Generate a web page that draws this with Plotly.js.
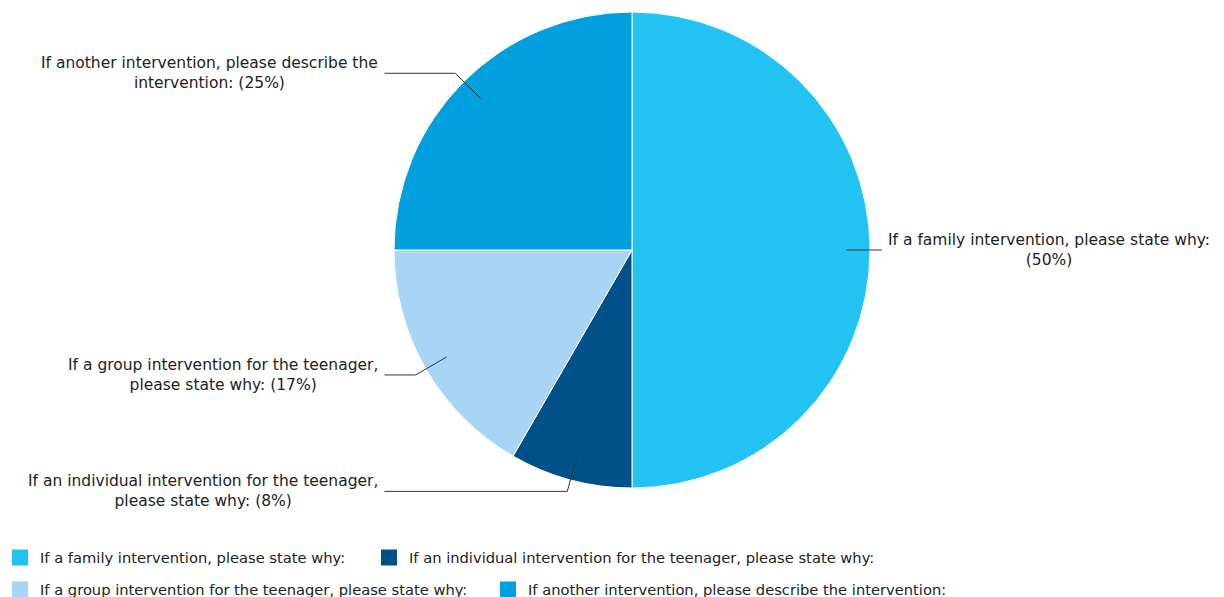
<!DOCTYPE html>
<html>
<head>
<meta charset="utf-8">
<script src="https://cdn.plot.ly/plotly-3.0.1.min.js"></script>
<style>html,body{margin:0;padding:0;background:#fff;overflow:hidden;}#chart{width:1224px;height:597px;overflow:hidden;}</style>
</head>
<body>
<div id="chart"></div>
<script>
// ---- data ----
const categories = [
  "If a family intervention, please state why:",
  "If an individual intervention for the teenager, please state why:",
  "If a group intervention for the teenager, please state why:",
  "If another intervention, please describe the intervention:"
];
const counts = [6, 1, 2, 3];
const labelLines = [
  ["If a family intervention, please state why:", ""],
  ["If an individual intervention for the teenager,", "please state why:"],
  ["If a group intervention for the teenager,", "please state why:"],
  ["If another intervention, please describe the", "intervention:"]
];
const colors = ["#22c3f3", "#00508a", "#a8d5f5", "#009fe0"];
const legendRow = [1, 1, 2, 2]; // legend row of each category

// ---- layout geometry ----
const W = 1224, H = 597;
const pieBox = {x0: 40, x1: 1224, y0: 12, y1: 488}; // pixel box for pie domain
const cx = (pieBox.x0 + pieBox.x1) / 2;
const cy = (pieBox.y0 + pieBox.y1) / 2;
const R = Math.min(pieBox.x1 - pieBox.x0, pieBox.y1 - pieBox.y0) / 2;
const FONT = "DejaVu Sans, Verdana, sans-serif";
const LABEL_SIZE = 15.5;
const LEGEND_SIZE = 14.7;
// width reserved for the first legend entry of each row (px)
const legendEntryWidth = {1: 324, 2: 443};

const px = x => x / W;
const py = y => 1 - y / H;

const total = counts.reduce((a, b) => a + b, 0);
const shapes = [];
const annotations = [];
let cum = 0;
counts.forEach((v, i) => {
  const mid = (cum + v / 2) / total * 2 * Math.PI; // clockwise from top
  cum += v;
  const dx = Math.sin(mid), dy = -Math.cos(mid);
  const side = dx >= 0 ? 1 : -1;
  const inner = [cx + 0.9 * R * dx, cy + 0.9 * R * dy];
  const elbow = [cx + 1.05 * R * dx, cy + 1.05 * R * dy];
  const endX = side > 0 ? Math.max(cx + 1.04 * R, elbow[0]) : Math.min(cx - 1.04 * R, elbow[0]);
  shapes.push({
    type: "path", xref: "paper", yref: "paper",
    path: `M${px(inner[0])},${py(inner[1])} L${px(elbow[0])},${py(elbow[1])} L${px(endX)},${py(elbow[1])}`,
    line: {color: "#333333", width: 1}
  });
  const pct = Math.round(v / total * 100);
  const l = labelLines[i];
  const txt = l[1] ? `${l[0]}<br>${l[1]} (${pct}%)` : `${l[0]}<br>(${pct}%)`;
  annotations.push({
    xref: "paper", yref: "paper",
    x: px(endX + side * 4), y: py(elbow[1]),
    xanchor: side > 0 ? "left" : "right", yanchor: "middle",
    text: txt, showarrow: false, align: "center",
    font: {family: FONT, size: LABEL_SIZE, color: "#222222"}
  });
});

const data = [{
  type: "pie",
  labels: categories,
  values: counts,
  sort: false,
  direction: "clockwise",
  rotation: 0,
  textinfo: "none",
  hoverinfo: "none",
  showlegend: false,
  marker: {colors: colors, line: {color: "#ffffff", width: 1}},
  domain: {x: [px(pieBox.x0), px(pieBox.x1)], y: [py(pieBox.y1), py(pieBox.y0)]}
}];

// legend entries (one per category), split over two legend rows
const seenRow = {};
categories.forEach((c, i) => {
  const row = legendRow[i];
  const tr = {
    type: "scatter", mode: "markers",
    x: [null], y: [null],
    name: c,
    legend: row === 1 ? "legend" : "legend2",
    showlegend: true, hoverinfo: "none",
    marker: {symbol: "square", size: 16, color: colors[i], line: {width: 0}}
  };
  if (!seenRow[row]) { tr.legendwidth = legendEntryWidth[row]; seenRow[row] = true; }
  data.push(tr);
});

const legendBase = {
  orientation: "h", xanchor: "left", yanchor: "middle",
  font: {family: FONT, size: LEGEND_SIZE, color: "#222222"},
  bgcolor: "rgba(0,0,0,0)",
  itemclick: false, itemdoubleclick: false
};

const layout = {
  width: W, height: H,
  margin: {l: 0, r: 0, t: 0, b: 0, autoexpand: false},
  paper_bgcolor: "#ffffff",
  plot_bgcolor: "#ffffff",
  showlegend: true,
  xaxis: {visible: false, domain: [0, 0.001]},
  yaxis: {visible: false, domain: [0, 0.001]},
  legend: Object.assign({}, legendBase, {x: 0, y: py(558)}),
  legend2: Object.assign({}, legendBase, {x: 0, y: py(590)}),
  shapes: shapes,
  annotations: annotations
};

Plotly.newPlot("chart", data, layout, {displayModeBar: false, staticPlot: true});
</script>
</body>
</html>
